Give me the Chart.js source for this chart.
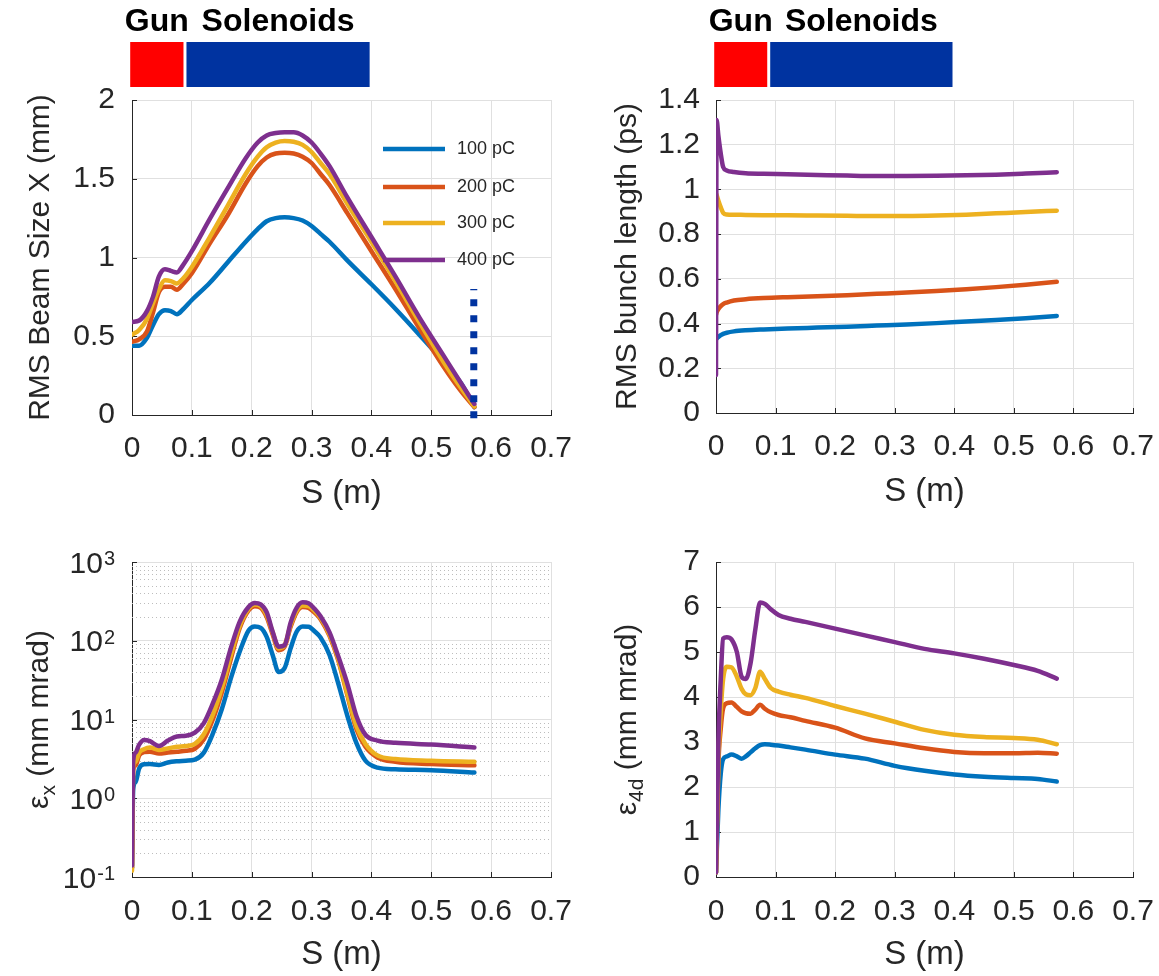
<!DOCTYPE html>
<html>
<head>
<meta charset="utf-8">
<title>Beam parameters along S</title>
<script src="https://cdn.jsdelivr.net/npm/chart.js@4.4.1/dist/chart.umd.min.js"></script>
<style>
  html, body { margin: 0; padding: 0; background: #ffffff; }
  #page { position: relative; width: 1159px; height: 976px; overflow: hidden; }
  #page canvas { position: absolute; }
</style>
</head>
<body>
<div id="page">
  <canvas id="beamSize" width="580" height="530" style="left:0px;top:0px"></canvas>
  <canvas id="bunchLength" width="579" height="530" style="left:580px;top:0px"></canvas>
  <canvas id="emitX" width="580" height="446" style="left:0px;top:530px"></canvas>
  <canvas id="emit4d" width="579" height="446" style="left:580px;top:530px"></canvas>
</div>
<script>
// Series names and colours (MATLAB default order).
const chargeLabels = ['100 pC', '200 pC', '300 pC', '400 pC'];
const lineColors = ['#0072bd', '#d95319', '#edb120', '#7e2f8e'];

// RMS beam size X (mm) vs S (m)
const sBeam = [0, 0.012, 0.025, 0.035, 0.045, 0.055, 0.065, 0.075, 0.085, 0.1, 0.13, 0.16, 0.19, 0.21, 0.225,
  0.24, 0.255, 0.27, 0.285, 0.3, 0.315, 0.33, 0.36, 0.4, 0.44, 0.48, 0.52, 0.55, 0.572];
const beam100 = [0.44, 0.44, 0.49, 0.57, 0.64, 0.665, 0.66, 0.64, 0.67, 0.73, 0.84, 0.97, 1.10, 1.18, 1.23,
  1.25, 1.255, 1.25, 1.235, 1.20, 1.15, 1.10, 0.98, 0.83, 0.675, 0.51, 0.34, 0.20, 0.05];
const beam200 = [0.465, 0.48, 0.53, 0.65, 0.78, 0.815, 0.815, 0.795, 0.83, 0.90, 1.09, 1.27, 1.47, 1.58, 1.635,
  1.66, 1.665, 1.66, 1.64, 1.60, 1.53, 1.46, 1.28, 1.04, 0.80, 0.55, 0.31, 0.15, 0.05];
const beam300 = [0.51, 0.54, 0.61, 0.71, 0.80, 0.855, 0.85, 0.835, 0.865, 0.94, 1.13, 1.33, 1.53, 1.64, 1.70,
  1.73, 1.74, 1.735, 1.715, 1.67, 1.60, 1.53, 1.34, 1.10, 0.85, 0.59, 0.34, 0.17, 0.055];
const beam400 = [0.59, 0.60, 0.66, 0.75, 0.88, 0.925, 0.915, 0.905, 0.95, 1.04, 1.245, 1.44, 1.63, 1.73, 1.775,
  1.79, 1.795, 1.795, 1.775, 1.73, 1.66, 1.58, 1.38, 1.13, 0.88, 0.62, 0.38, 0.20, 0.07];

// RMS bunch length (ps)
const sBunch = [0, 0.001, 0.004, 0.008, 0.012, 0.018, 0.03, 0.05, 0.08, 0.12, 0.17, 0.22, 0.27, 0.32, 0.37,
  0.42, 0.47, 0.52, 0.572];
const bunch100 = [0.33, 0.333, 0.34, 0.348, 0.354, 0.359, 0.365, 0.37, 0.374, 0.378, 0.382, 0.386, 0.391, 0.396,
  0.402, 0.409, 0.416, 0.424, 0.434];
const bunch200 = [0.44, 0.45, 0.465, 0.478, 0.487, 0.494, 0.503, 0.509, 0.514, 0.518, 0.522, 0.527, 0.533, 0.539,
  0.546, 0.554, 0.563, 0.574, 0.587];
const bunch300 = [0.98, 0.975, 0.95, 0.92, 0.895, 0.888, 0.887, 0.886, 0.885, 0.884, 0.883, 0.882, 0.881, 0.881,
  0.883, 0.887, 0.893, 0.899, 0.905];
const bunch400 = [0.17, 1.31, 1.24, 1.16, 1.1, 1.085, 1.078, 1.072, 1.07, 1.068, 1.065, 1.062, 1.06, 1.06,
  1.061, 1.063, 1.066, 1.071, 1.077];

// Transverse emittance x (mm mrad), log axis
const sEmitX = [0, 0.002, 0.006, 0.012, 0.02, 0.03, 0.045, 0.06, 0.075, 0.09, 0.105, 0.12, 0.135, 0.15, 0.165,
  0.18, 0.195, 0.205, 0.215, 0.225, 0.235, 0.245, 0.255, 0.265, 0.275, 0.285, 0.295, 0.305, 0.315, 0.33,
  0.345, 0.36, 0.375, 0.39, 0.41, 0.44, 0.5, 0.572];
const emitX100 = [0.13, 1.3, 1.6, 2.4, 2.7, 2.72, 2.65, 2.85, 2.95, 3.0, 3.1, 3.8, 6.6, 13.5, 33,
  73, 136, 152, 146, 112, 66, 40, 45, 80, 130, 152, 151, 132, 110, 66,
  28, 11, 5, 3.0, 2.45, 2.33, 2.27, 2.12];
const emitX200 = [0.13, 2.3, 2.6, 3.5, 3.85, 3.9, 3.7, 3.8, 3.9, 4.0, 4.25, 5.6, 10, 22, 58,
  145, 244, 275, 262, 200, 120, 76, 84, 150, 230, 268, 262, 228, 188, 115,
  55, 20, 7.5, 4.5, 3.3, 2.9, 2.72, 2.62];
const emitX300 = [0.12, 2.5, 2.9, 3.8, 4.2, 4.4, 4.1, 4.3, 4.5, 4.6, 4.9, 6.5, 11.5, 25, 65,
  155, 255, 288, 275, 212, 128, 80, 88, 158, 240, 280, 275, 240, 196, 120,
  57, 21, 8.2, 4.9, 3.5, 3.15, 3.0, 2.9];
const emitX400 = [0.14, 3.0, 3.8, 4.8, 5.5, 5.3, 4.6, 5.4, 6.1, 6.2, 6.8, 9, 16, 32, 80,
  175, 270, 302, 290, 230, 130, 84, 88, 170, 262, 308, 300, 255, 205, 128,
  62, 28, 11, 6.4, 5.4, 5.05, 4.8, 4.4];
const logTicks = [0.1, 1, 10, 100, 1000];

// 4D emittance (mm mrad)
const sEmit4 = [0, 0.004, 0.008, 0.012, 0.018, 0.026, 0.035, 0.043, 0.05, 0.058, 0.066, 0.074, 0.082, 0.092,
  0.105, 0.125, 0.15, 0.2, 0.25, 0.3, 0.35, 0.4, 0.45, 0.5, 0.54, 0.572];
const emit4d100 = [0.1, 1.5, 2.3, 2.62, 2.68, 2.72, 2.68, 2.63, 2.68, 2.77, 2.86, 2.93, 2.95, 2.94,
  2.92, 2.88, 2.83, 2.72, 2.63, 2.47, 2.36, 2.28, 2.23, 2.2, 2.18, 2.12];
const emit4d200 = [0.1, 2.5, 3.3, 3.75, 3.86, 3.88, 3.78, 3.68, 3.64, 3.63, 3.72, 3.83, 3.74, 3.66,
  3.6, 3.55, 3.47, 3.32, 3.08, 2.97, 2.86, 2.78, 2.75, 2.75, 2.76, 2.74];
const emit4d300 = [0.1, 2.6, 3.7, 4.4, 4.67, 4.66, 4.45, 4.18, 4.06, 4.04, 4.2, 4.56, 4.4, 4.2,
  4.12, 4.05, 3.98, 3.8, 3.63, 3.45, 3.27, 3.16, 3.11, 3.09, 3.05, 2.95];
const emit4d400 = [0.1, 3.0, 4.4, 5.3, 5.33, 5.28, 5.0, 4.45, 4.4, 4.75, 5.5, 6.1, 6.07, 5.95,
  5.82, 5.74, 5.67, 5.52, 5.37, 5.22, 5.07, 4.97, 4.85, 4.71, 4.58, 4.41];

// Beamline elements above the top plots (in S, metres) and the end marker.
const headerLabels = ['Gun', 'Solenoids'];
const headerSpans = [[-0.003, 0.086], [0.091, 0.397]];
const headerColors = ['#ff0000', '#0033a0'];
const markerS = 0.571;
const markerRange = [-0.02, 0.8];

const FONT = '"Liberation Sans", Arial, Helvetica, sans-serif';
const AXIS_COLOR = '#262626';
const GRID_COLOR = '#e0e0e0';
const MINOR_COLOR = '#bdbdbd';

function font(size, weight) {
  return (weight || 'normal') + ' ' + size + 'px ' + FONT;
}

function tickText(v) {
  return String(Math.round(v * 100) / 100);
}

function buildDatasets(xs, series) {
  return series.map((ys, i) => ({
    label: chargeLabels[i],
    data: xs.map((x, j) => ({x: x, y: ys[j]})),
    borderColor: lineColors[i],
    borderWidth: 4.5,
    pointRadius: 0,
    cubicInterpolationMode: 'monotone',
    borderJoinStyle: 'round',
    borderCapStyle: 'round',
    order: series.length - i   // 400 pC drawn last, on top
  }));
}

function hLine(ctx, x1, x2, y) {
  ctx.beginPath();
  ctx.moveTo(x1, y);
  ctx.lineTo(x2, y);
  ctx.stroke();
}

function vLine(ctx, x, y1, y2) {
  ctx.beginPath();
  ctx.moveTo(x, y1);
  ctx.lineTo(x, y2);
  ctx.stroke();
}

// Rotated axis title, parts = [[text, isSubscript], ...]
function drawYTitle(ctx, parts, cx, cy, size) {
  ctx.save();
  ctx.translate(cx, cy);
  ctx.rotate(-Math.PI / 2);
  ctx.fillStyle = AXIS_COLOR;
  ctx.textAlign = 'left';
  ctx.textBaseline = 'middle';
  let total = 0;
  const widths = parts.map(([t, sub]) => {
    ctx.font = font(sub ? size * 0.7 : size);
    const w = ctx.measureText(t).width;
    total += w;
    return w;
  });
  let x = -total / 2;
  parts.forEach(([t, sub], i) => {
    ctx.font = font(sub ? size * 0.7 : size);
    ctx.fillText(t, x, sub ? size * 0.3 : 0);
    x += widths[i];
  });
  ctx.restore();
}

function decorPlugin(p) {
  return {
    id: 'decor',
    beforeDatasetsDraw(chart) {
      const {ctx, chartArea: a, scales: {x, y}} = chart;
      ctx.save();
      ctx.lineWidth = 1;

      // Dotted minor grid on the log axis.
      if (p.logMinor) {
        ctx.strokeStyle = MINOR_COLOR;
        ctx.setLineDash([1, 3]);
        for (let d = 0; d < logTicks.length - 1; d++) {
          for (let k = 2; k <= 9; k++) {
            const py = Math.round(y.getPixelForValue(k * logTicks[d])) + 0.5;
            hLine(ctx, a.left, a.right, py);
          }
        }
        ctx.setLineDash([]);
      }

      // Inward tick marks, MATLAB style.
      ctx.strokeStyle = AXIS_COLOR;
      x.ticks.forEach(t => {
        const px = Math.round(x.getPixelForValue(t.value)) + 0.5;
        vLine(ctx, px, a.bottom, a.bottom - 5);
      });
      y.ticks.forEach(t => {
        const py = Math.round(y.getPixelForValue(t.value)) + 0.5;
        hLine(ctx, a.left, a.left + 5, py);
      });
      ctx.restore();
    },
    afterDatasetsDraw(chart) {
      const {ctx, chartArea: a, scales: {x, y}} = chart;
      ctx.save();

      // Blue dotted marker at the end of the solenoid section (drawn bottom-up).
      if (p.marker) {
        ctx.strokeStyle = '#0033a0';
        ctx.lineWidth = 7;
        ctx.setLineDash([7, 9]);
        const px = x.getPixelForValue(markerS);
        vLine(ctx, px, y.getPixelForValue(markerRange[0]), y.getPixelForValue(markerRange[1]));
        ctx.setLineDash([]);
      }

      // Legend inside the plot box.
      if (p.legend) {
        ctx.font = font(18);
        ctx.textAlign = 'left';
        ctx.textBaseline = 'middle';
        const rows = [49, 87, 123, 160];
        chargeLabels.forEach((label, i) => {
          const ly = a.top + rows[i];
          ctx.strokeStyle = lineColors[i];
          ctx.lineWidth = 4.5;
          hLine(ctx, a.left + 251, a.left + 313, ly);
          ctx.fillStyle = AXIS_COLOR;
          ctx.fillText(label, a.left + 325, ly);
        });
      }
      ctx.restore();
    },
    afterDraw(chart) {
      const {ctx, chartArea: a, scales: {x, y}} = chart;
      ctx.save();

      // x title
      ctx.fillStyle = AXIS_COLOR;
      ctx.font = font(33);
      ctx.textAlign = 'center';
      ctx.textBaseline = 'middle';
      ctx.fillText('S (m)', (a.left + a.right) / 2, a.bottom + p.xTitleGap);

      // y title
      drawYTitle(ctx, p.yTitle, a.left - p.yTitleGap, (a.top + a.bottom) / 2, 30);

      // Power-of-ten labels for the log axis.
      if (p.logMinor) {
        logTicks.forEach(v => {
          const py = y.getPixelForValue(v);
          const exp = String(Math.round(Math.log10(v)));
          const right = a.left - p.yTickPad;
          ctx.textAlign = 'right';
          ctx.textBaseline = 'alphabetic';
          ctx.font = font(20);
          const ew = ctx.measureText(exp).width;
          ctx.fillText(exp, right, py + 3);
          ctx.font = font(30);
          ctx.fillText('10', right - ew - 1, py + 10.5);
        });
      }

      // Gun / Solenoids blocks above the plot.
      if (p.header) {
        headerSpans.forEach((span, i) => {
          const x1 = x.getPixelForValue(span[0]);
          const x2 = x.getPixelForValue(span[1]);
          ctx.fillStyle = headerColors[i];
          ctx.fillRect(x1, 42, x2 - x1, 45);
          ctx.fillStyle = '#000000';
          ctx.font = font(32, 'bold');
          ctx.textAlign = 'center';
          ctx.textBaseline = 'alphabetic';
          ctx.fillText(headerLabels[i], (x1 + x2) / 2, 31);
        });
      }
      ctx.restore();
    }
  };
}

function makePanel(p) {
  // Label offsets come from invisible tick marks so that they do not eat into the plot box.
  const yScale = Object.assign({
    afterFit: s => { s.width = p.left; },
    grid: {color: GRID_COLOR, drawTicks: true, tickLength: p.yTickPad, tickColor: 'rgba(0,0,0,0)'},
    border: {color: AXIS_COLOR, width: 1}
  }, p.y);
  yScale.ticks = Object.assign({
    padding: 0,
    color: AXIS_COLOR,
    font: {family: FONT, size: 30},
    callback: v => tickText(v)
  }, p.y.ticks);

  new Chart(document.getElementById(p.canvas), {
    type: 'line',
    data: {datasets: buildDatasets(p.s, p.series)},
    options: {
      responsive: false,
      animation: false,
      devicePixelRatio: 1,
      events: [],
      layout: {padding: {top: p.top, right: p.right, left: 0, bottom: 0}},
      plugins: {
        legend: {display: false},
        tooltip: {enabled: false}
      },
      scales: {
        x: {
          type: 'linear',
          min: 0,
          max: 0.7,
          afterFit: s => { s.height = p.xHeight; },
          ticks: {
            stepSize: 0.1,
            padding: 0,
            maxRotation: 0,
            autoSkip: false,
            color: AXIS_COLOR,
            font: {family: FONT, size: 30},
            callback: v => tickText(v)
          },
          grid: {color: GRID_COLOR, drawTicks: true, tickLength: p.xTickPad, tickColor: 'rgba(0,0,0,0)'},
          border: {color: AXIS_COLOR, width: 1}
        },
        y: yScale
      }
    },
    plugins: [decorPlugin(p)]
  });
}

makePanel({
  canvas: 'beamSize', s: sBeam, series: [beam100, beam200, beam300, beam400],
  y: {type: 'linear', min: 0, max: 2, ticks: {stepSize: 0.5}},
  yTitle: [['RMS Beam Size X (mm)', false]],
  left: 132, top: 100, right: 29, xHeight: 115,
  xTickPad: 16, yTickPad: 17, xTitleGap: 79, yTitleGap: 91,
  header: true, legend: true, marker: true
});

makePanel({
  canvas: 'bunchLength', s: sBunch, series: [bunch100, bunch200, bunch300, bunch400],
  y: {type: 'linear', min: 0, max: 1.4, ticks: {stepSize: 0.2}},
  yTitle: [['RMS bunch length (ps)', false]],
  left: 136, top: 100, right: 26, xHeight: 117,
  xTickPad: 16, yTickPad: 16, xTitleGap: 79, yTitleGap: 88,
  header: true
});

makePanel({
  canvas: 'emitX', s: sEmitX, series: [emitX100, emitX200, emitX300, emitX400],
  y: {
    type: 'logarithmic', min: 0.1, max: 1000,
    afterBuildTicks: s => { s.ticks = logTicks.map(v => ({value: v})); },
    ticks: {display: false}
  },
  yTitle: [['\u03b5', false], ['x', true], [' (mm mrad)', false]],
  left: 132, top: 32, right: 29, xHeight: 99,
  xTickPad: 17, yTickPad: 17, xTitleGap: 78, yTitleGap: 92,
  logMinor: true
});

makePanel({
  canvas: 'emit4d', s: sEmit4, series: [emit4d100, emit4d200, emit4d300, emit4d400],
  y: {type: 'linear', min: 0, max: 7, ticks: {stepSize: 1}},
  yTitle: [['\u03b5', false], ['4d', true], [' (mm mrad)', false]],
  left: 136, top: 32, right: 26, xHeight: 99,
  xTickPad: 17, yTickPad: 16, xTitleGap: 78, yTitleGap: 88
});
</script>
</body>
</html>
